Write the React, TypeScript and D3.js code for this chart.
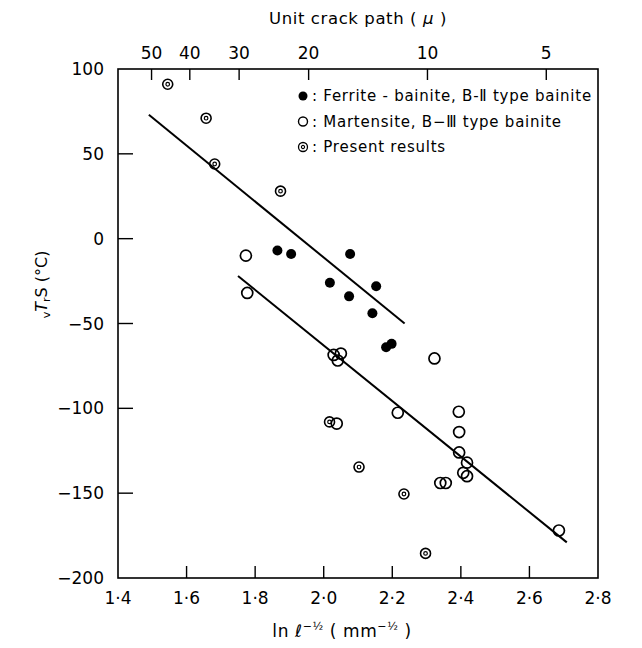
import React, { useEffect, useRef } from 'react';
import * as d3 from 'd3';

// bottom axis: ln l^-1/2 (mm^-1/2)
const xTicks = [1.4, 1.6, 1.8, 2.0, 2.2, 2.4, 2.6, 2.8];
// left axis: vTrs (°C)
const yTicks = [100, 50, 0, -50, -100, -150, -200];
// top axis: unit crack path in microns
const crackTicks = [50, 40, 30, 20, 10, 5];

// [ln l^-1/2, vTrs]
const ferrite = [
  [1.865, -7], [1.905, -9], [2.077, -9], [2.018, -26], [2.153, -28],
  [2.074, -34], [2.142, -44], [2.182, -64], [2.198, -62],
];
const martensite = [
  [1.773, -10], [1.777, -32], [2.029, -68.5], [2.05, -67.7], [2.041, -71.8],
  [2.038, -109], [2.216, -102.6], [2.323, -70.6], [2.34, -144], [2.356, -144],
  [2.394, -102], [2.395, -114], [2.395, -126], [2.418, -132], [2.407, -138],
  [2.418, -140], [2.686, -172],
];
const present = [
  [1.545, 91], [1.657, 71], [1.682, 44], [1.874, 28],
  [2.017, -108], [2.103, -134.6], [2.234, -150.5], [2.297, -185.5],
];
// hand-drawn fit lines, end points
const upperFit = [[1.49, 73], [2.236, -50]];
const lowerFit = [[1.75, -22], [2.709, -179]];

const FONT = '"DejaVu Sans", sans-serif';

const App = () => {
  const svgRef = useRef(null);

  useEffect(() => {
    const width = 642;
    const height = 648;
    const svg = d3.select(svgRef.current)
      .attr('width', width)
      .attr('height', height);
    svg.selectAll('*').remove();

    const x = d3.scaleLinear().domain([1.4, 2.8]).range([118, 598]);
    const y = d3.scaleLinear().domain([-200, 100]).range([578, 69]);
    // micron -> ln l^-1/2 with l in mm
    const crackToX = d => x(-0.5 * Math.log(d / 1000));

    const fmt = v => v.toFixed(1).replace('.', '\u00b7');
    const fmtY = v => (v < 0 ? '\u2212' + Math.abs(v) : String(v));

    const g = svg.append('g');

    // frame
    g.append('rect')
      .attr('x', x(1.4)).attr('y', y(100))
      .attr('width', x(2.8) - x(1.4)).attr('height', y(-200) - y(100))
      .attr('fill', 'none').attr('stroke', '#000').attr('stroke-width', 1.6);

    // bottom ticks (inward)
    g.selectAll('.xt').data(xTicks.slice(1, -1)).join('line')
      .attr('x1', d => x(d)).attr('x2', d => x(d))
      .attr('y1', y(-200)).attr('y2', y(-200) - 12)
      .attr('stroke', '#000').attr('stroke-width', 1.4);
    g.selectAll('.xl').data(xTicks).join('text')
      .attr('x', d => x(d)).attr('y', y(-200) + 26)
      .attr('text-anchor', 'middle')
      .attr('font-family', FONT).attr('font-size', 17)
      .text(fmt);

    // left ticks
    g.selectAll('.yt').data(yTicks.slice(1, -1)).join('line')
      .attr('x1', x(1.4)).attr('x2', x(1.4) + 15)
      .attr('y1', d => y(d)).attr('y2', d => y(d))
      .attr('stroke', '#000').attr('stroke-width', 1.4);
    g.selectAll('.yl').data(yTicks).join('text')
      .attr('x', x(1.4) - 14).attr('y', d => y(d) + 6)
      .attr('text-anchor', 'end')
      .attr('font-family', FONT).attr('font-size', 17)
      .text(fmtY);

    // top ticks: crack path
    g.selectAll('.ct').data(crackTicks).join('line')
      .attr('x1', crackToX).attr('x2', crackToX)
      .attr('y1', y(100)).attr('y2', y(100) + 11)
      .attr('stroke', '#000').attr('stroke-width', 1.4);
    g.selectAll('.cl').data(crackTicks).join('text')
      .attr('x', crackToX).attr('y', y(100) - 10)
      .attr('text-anchor', 'middle')
      .attr('font-family', FONT).attr('font-size', 17)
      .text(d => d);

    // titles
    const top = g.append('text')
      .attr('x', 358).attr('y', 24)
      .attr('text-anchor', 'middle')
      .attr('font-family', FONT).attr('font-size', 16.5)
      .attr('letter-spacing', 0.6);
    top.append('tspan').text('Unit crack path  ( ');
    top.append('tspan').attr('font-style', 'italic').text('\u03bc');
    top.append('tspan').text(' )');

    const bottom = g.append('text')
      .attr('x', 342).attr('y', 637)
      .attr('text-anchor', 'middle')
      .attr('font-family', FONT).attr('font-size', 17)
      .attr('letter-spacing', 0.6);
    bottom.append('tspan').text('ln ');
    bottom.append('tspan').attr('font-style', 'italic').text('\u2113');
    bottom.append('tspan').attr('dy', -7).attr('font-size', 11).text('\u2212\u00bd');
    bottom.append('tspan').attr('dy', 7).text('    ( mm');
    bottom.append('tspan').attr('dy', -7).attr('font-size', 11).text('\u2212\u00bd');
    bottom.append('tspan').attr('dy', 7).text(' )');

    const left = g.append('text')
      .attr('transform', `translate(47,${y(-27)}) rotate(-90)`)
      .attr('text-anchor', 'middle')
      .attr('font-family', FONT).attr('font-size', 16);
    left.append('tspan').attr('font-size', 11).attr('dy', 3).text('v');
    left.append('tspan').attr('dy', -3).attr('font-style', 'italic').text('T');
    left.append('tspan').attr('font-size', 11).attr('dy', 3).text('r');
    left.append('tspan').attr('dy', -3).text('S   (\u00b0C)');

    // fit lines
    const line = d3.line().x(d => x(d[0])).y(d => y(d[1]));
    [upperFit, lowerFit].forEach(f => {
      g.append('path').attr('d', line(f))
        .attr('fill', 'none').attr('stroke', '#000').attr('stroke-width', 2);
    });

    // points
    g.selectAll('.fb').data(ferrite).join('circle')
      .attr('cx', d => x(d[0])).attr('cy', d => y(d[1])).attr('r', 5)
      .attr('fill', '#000');
    g.selectAll('.mt').data(martensite).join('circle')
      .attr('cx', d => x(d[0])).attr('cy', d => y(d[1])).attr('r', 5.5)
      .attr('fill', 'none').attr('stroke', '#000').attr('stroke-width', 1.7);
    const pr = g.selectAll('.pr').data(present).join('g')
      .attr('transform', d => `translate(${x(d[0])},${y(d[1])})`);
    pr.append('circle').attr('r', 5).attr('fill', 'none')
      .attr('stroke', '#000').attr('stroke-width', 1.6);
    pr.append('circle').attr('r', 1.8).attr('fill', 'none')
      .attr('stroke', '#000').attr('stroke-width', 1.2);

    // legend
    const legend = [
      { kind: 'f', label: ': Ferrite - bainite,  B-\u2161  type  bainite' },
      { kind: 'm', label: ': Martensite,  B\u2212\u2162  type  bainite' },
      { kind: 'p', label: ': Present  results' },
    ];
    const lg = g.append('g').attr('transform', 'translate(303,96)');
    legend.forEach((it, i) => {
      const row = lg.append('g').attr('transform', `translate(0,${i * 25.5})`);
      if (it.kind === 'f') {
        row.append('circle').attr('r', 4.5).attr('fill', '#000');
      } else if (it.kind === 'm') {
        row.append('circle').attr('r', 4.5).attr('fill', 'none')
          .attr('stroke', '#000').attr('stroke-width', 1.4);
      } else {
        row.append('circle').attr('r', 4.5).attr('fill', 'none')
          .attr('stroke', '#000').attr('stroke-width', 1.3);
        row.append('circle').attr('r', 1.6).attr('fill', 'none')
          .attr('stroke', '#000').attr('stroke-width', 1.1);
      }
      row.append('text').attr('x', 9).attr('y', 5)
        .attr('font-family', FONT).attr('font-size', 15)
        .attr('letter-spacing', 0.75)
        .text(it.label);
    });
  }, []);

  return (
    <svg ref={svgRef} style={{ position: 'absolute', left: 0, top: 0, display: 'block', background: '#fff' }} />
  );
};

export default App;
